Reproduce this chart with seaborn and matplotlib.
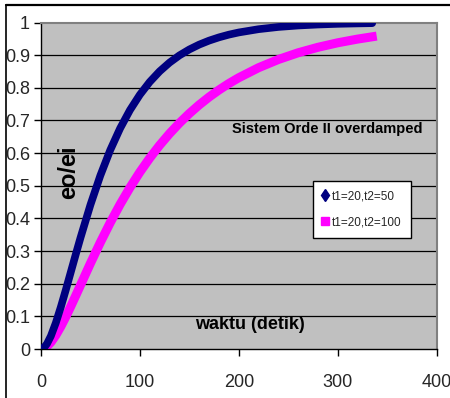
import matplotlib
matplotlib.use("Agg")
import matplotlib.pyplot as plt
from matplotlib.lines import Line2D
import seaborn as sns
import pandas as pd

# values
t = [0, 3, 6, 10, 15, 20, 25, 30, 35, 40, 50, 60, 70, 80, 90, 100, 110, 120,
     130, 140, 150, 160, 170, 180, 190, 200, 220, 240, 260, 280, 300, 320, 335]
y_50 = [0.0, 0.0042, 0.0157, 0.0398, 0.0802, 0.1281, 0.1801, 0.2341, 0.2882,
        0.3413, 0.4416, 0.5312, 0.6091, 0.6757, 0.7319, 0.7789, 0.8181, 0.8505,
        0.8772, 0.8993, 0.9174, 0.9323, 0.9445, 0.9545, 0.9628, 0.9695, 0.9795,
        0.9863, 0.9908, 0.9938, 0.9959, 0.9972, 0.9980]
y_100 = [0.0, 0.0021, 0.0080, 0.0206, 0.0422, 0.0686, 0.0981, 0.1298, 0.1626,
         0.1959, 0.2624, 0.3264, 0.3868, 0.4429, 0.4946, 0.5418, 0.5849, 0.6241,
         0.6597, 0.6920, 0.7212, 0.7477, 0.7717, 0.7934, 0.8131, 0.8308, 0.8615,
         0.8866, 0.9072, 0.9240, 0.9378, 0.9491, 0.9562]
labels = ["t1=20,t2=50", "t1=20,t2=100"]
x_ticks = [0, 100, 200, 300, 400]
y_ticks = [0, 0.1, 0.2, 0.3, 0.4, 0.5, 0.6, 0.7, 0.8, 0.9, 1]
y_tick_labels = ["0", "0.1", "0.2", "0.3", "0.4", "0.5", "0.6", "0.7", "0.8", "0.9", "1"]

colors = {labels[0]: "#000080", labels[1]: "#FF00FF"}

df = pd.concat([
    pd.DataFrame({"t": t, "y": y_50, "series": labels[0]}),
    pd.DataFrame({"t": t, "y": y_100, "series": labels[1]}),
], ignore_index=True)

sns.set_theme(style="white")
plt.rcParams["font.family"] = ["Liberation Sans", "DejaVu Sans"]

W, H = 450, 398
fig = plt.figure(figsize=(W / 100, H / 100), dpi=100)
fig.patch.set_facecolor("white")
ax = fig.add_axes([41 / W, 1 - 349 / H, (436.5 - 41) / W, (349 - 22.5) / H])
ax.set_facecolor("#C0C0C0")

for yv in y_ticks[1:-1]:
    ax.axhline(yv, color="#000000", lw=0.9, zorder=1)

sns.lineplot(data=df, x="t", y="y", hue="series", palette=colors,
             hue_order=labels, linewidth=5.5, legend=False, ax=ax,
             sort=False, zorder=3)
lines = ax.get_lines()[-2:]
lines[0].set_solid_capstyle("round")
lines[0].set_solid_joinstyle("round")
lines[1].set_solid_capstyle("projecting")
lines[1].set_solid_joinstyle("round")
lines[1].set_linewidth(6.5)
lines[1].set_zorder(2.5)

ax.set_xlim(0, 400)
ax.set_ylim(0, 1)
ax.set_xticks(x_ticks)
ax.set_xticklabels([str(v) for v in x_ticks])
ax.set_yticks(y_ticks)
ax.set_yticklabels(y_tick_labels)
ax.set_xlabel("")
ax.set_ylabel("")
ax.tick_params(axis="both", which="both", direction="out", length=5,
               width=1, color="black", labelsize=13, left=True, bottom=True)
ax.tick_params(axis="y", pad=3)
ax.tick_params(axis="x", pad=13)

for side in ["top", "right"]:
    ax.spines[side].set_color("#808080")
    ax.spines[side].set_linewidth(1.5)
ax.spines["left"].set_color("black")
ax.spines["left"].set_linewidth(1)
ax.spines["bottom"].set_color("black")
ax.spines["bottom"].set_linewidth(1)

ax.text(28, 0.542, "eo/ei", rotation=90, ha="center", va="center",
        fontsize=17, fontweight="bold", color="black")
ax.text(211, 0.074, "waktu (detik)", ha="center", va="center",
        fontsize=13, fontweight="bold", color="black")
ax.text(290, 0.674, "Sistem Orde II overdamped", ha="center", va="center",
        fontsize=10.5, fontweight="bold", color="black")

handles = [
    Line2D([], [], linestyle="none", marker="d", markersize=6,
           color=colors[labels[0]]),
    Line2D([], [], linestyle="none", marker="s", markersize=5.5,
           color=colors[labels[1]]),
]
leg = ax.legend(handles, labels, loc="upper left",
                bbox_to_anchor=(313 / W, 1 - 181 / H),
                bbox_transform=fig.transFigure, borderaxespad=0,
                frameon=True, fancybox=False, framealpha=1,
                edgecolor="black", facecolor="white", fontsize=8.5,
                handlelength=0.5, handletextpad=0.3, labelspacing=1.2,
                borderpad=0.8)
leg.get_frame().set_linewidth(1)
leg.set_zorder(5)

# outer chart frame
fig.add_artist(Line2D([6 / W, 1], [1 - 5 / H, 1 - 5 / H], color="black",
                      lw=1.6, transform=fig.transFigure))
fig.add_artist(Line2D([6 / W, 6 / W], [0, 1 - 5 / H], color="black",
                      lw=1.2, transform=fig.transFigure))

fig.savefig("out.png", dpi=100)
